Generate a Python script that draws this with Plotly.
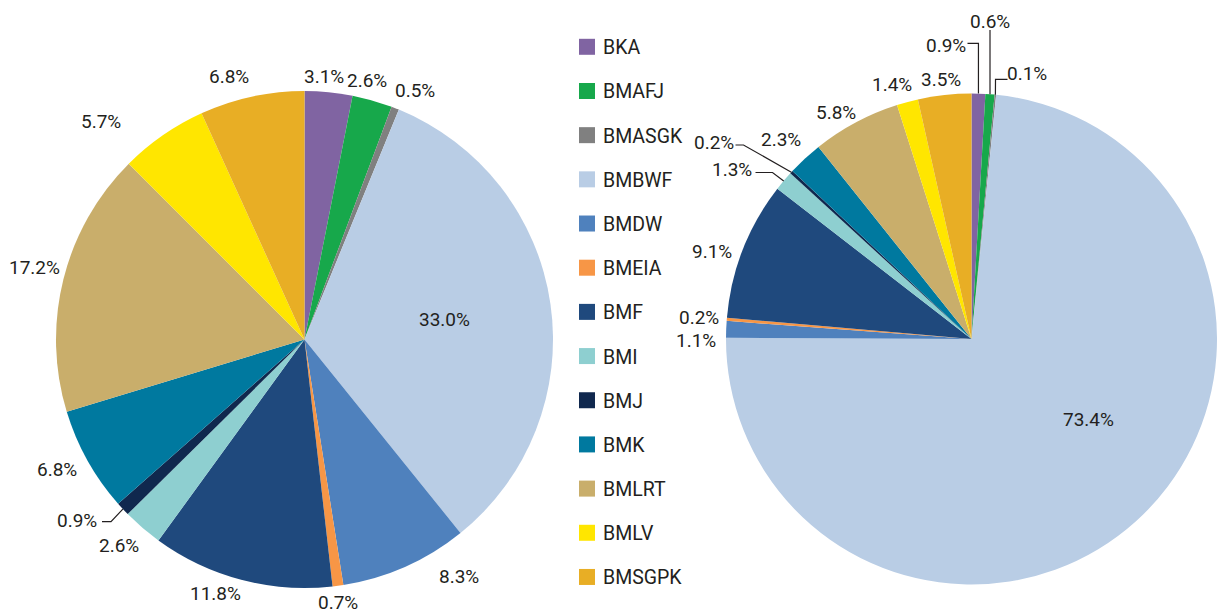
import math
import plotly.graph_objects as go

# Ministry codes and their shares (percent) in the two breakdowns
categories = ["BKA", "BMAFJ", "BMASGK", "BMBWF", "BMDW", "BMEIA", "BMF",
              "BMI", "BMJ", "BMK", "BMLRT", "BMLV", "BMSGPK"]
share_left = [3.1, 2.6, 0.5, 33.0, 8.3, 0.7, 11.8, 2.6, 0.9, 6.8, 17.2, 5.7, 6.8]
share_right = [0.9, 0.6, 0.1, 73.4, 1.1, 0.2, 9.1, 1.3, 0.2, 2.3, 5.8, 1.4, 3.5]

colors = ["#8064A2", "#17A84B", "#808080", "#B9CDE5", "#4F81BD", "#F79646",
          "#1F497D", "#8ECFD0", "#10284E", "#00799F", "#C9AE6B", "#FFE600",
          "#E8AE25"]

W, H = 1217, 613
FONT = "Roboto, Liberation Sans, sans-serif"
INK = "#231F20"
LABEL_SIZE = 19
LEGEND_SIZE = 19.5


def px(x):
    return x / W


def py(y):
    return 1 - y / H


# pie boxes in pixels: (left, top, right, bottom)
boxes = {"left": (56, 91, 553, 588), "right": (726, 92, 1217, 586)}

# label nudges (pixels) and which slice carries its label inside
nudges = {
    "left": {"BKA": (-8, 3), "BMAFJ": (-13, -2), "BMASGK": (9, 0), "BMBWF": (0, 0),
             "BMDW": (42, -7), "BMEIA": (-4, -2), "BMF": (-17, -5), "BMI": (-4, 3),
             "BMK": (-5, 0), "BMLRT": (5, -7), "BMLV": (-45, 2), "BMSGPK": (-17, -2)},
    "right": {"BMBWF": (23, -24), "BMDW": (-1, 12), "BMEIA": (2, 0), "BMF": (-3, 9),
              "BMK": (-4, -5), "BMLRT": (-6, 7), "BMLV": (-8, 1), "BMSGPK": (0, 3)},
}
inside = {"left": "BMBWF", "right": "BMBWF"}

# callout labels with leader lines: text centre, line end and elbow,
# all relative to the pie centre in pixels ("v" = elbow straight above slice)
callouts = {
    "left": {"BMJ": dict(text=(-228, 180.5), end=(-202.5, 182.2), elbow=(-193.5, 182.2))},
    "right": {
        "BKA": dict(text=(-25.5, -294), end=(-4, -295.7), elbow="v"),
        "BMAFJ": dict(text=(19, -318), end=None, elbow=(None, -309)),
        "BMASGK": dict(text=(55.5, -265), end=(36, -259.7), elbow=(24, -259.7)),
        "BMI": dict(text=(-239.5, -169.5), end=(-216, -166.5), elbow=(-199, -166.5)),
        "BMJ": dict(text=(-257.5, -196.5), end=(-236, -194), elbow=(-228, -194)),
    },
}

fig = go.Figure()
annotations = []
shapes = []

for side, values in (("left", share_left), ("right", share_right)):
    l, t, r, b = boxes[side]
    fig.add_trace(go.Pie(
        labels=categories, values=values, sort=False, direction="clockwise",
        rotation=0, marker=dict(colors=colors, line=dict(width=0)),
        textinfo="none", showlegend=False, hole=0,
        domain=dict(x=[px(l), px(r)], y=[py(b), py(t)]),
        hovertemplate="%{label}: %{value:.1f}%<extra></extra>",
    ))
    cx, cy = (l + r) / 2, (t + b) / 2
    R = min(r - l, b - t) / 2
    total = sum(values)
    cum = 0.0
    for name, v in zip(categories, values):
        mid = (cum + v / 2) / total * 2 * math.pi
        cum += v
        s, c = math.sin(mid), math.cos(mid)
        text = f"{v:.1f}%"
        if name in callouts[side]:
            co = callouts[side][name]
            ex, ey = cx + R * s, cy - R * c
            tx, ty = cx + co["text"][0], cy + co["text"][1]
            pts = [(ex, ey)]
            if co["elbow"] == "v":
                endy = cy + co["end"][1]
                pts += [(ex, endy), (cx + co["end"][0], endy)]
            elif co["elbow"][0] is None:
                pts.append((ex, cy + co["elbow"][1]))
                tx = ex
            else:
                pts += [(cx + co["elbow"][0], cy + co["elbow"][1]),
                        (cx + co["end"][0], cy + co["end"][1])]
            path = "M " + " L ".join(f"{px(x):.5f},{py(y):.5f}" for x, y in pts)
            shapes.append(dict(type="path", path=path, xref="paper", yref="paper",
                               line=dict(color=INK, width=1.2)))
        elif name == inside[side]:
            rr = 0.57 * R
            dx, dy = nudges[side][name]
            tx, ty = cx + rr * s + dx, cy - rr * c + dy
        else:
            rg = R + 10
            hw, hh = 4.9 * len(text), 9
            dx, dy = nudges[side][name]
            tx = cx + rg * s + hw * s + dx
            ty = cy - rg * c - hh * c + dy
        annotations.append(dict(
            x=px(tx), y=py(ty), xref="paper", yref="paper", text=text,
            showarrow=False, xanchor="center", yanchor="middle",
            font=dict(family=FONT, size=LABEL_SIZE, color=INK)))

# legend column between the two pies
legend_x, legend_y0, legend_step, swatch = 579, 46.8, 44.18, 16
for i, (name, col) in enumerate(zip(categories, colors)):
    yc = legend_y0 + i * legend_step
    shapes.append(dict(type="rect", xref="paper", yref="paper",
                       x0=px(legend_x), x1=px(legend_x + swatch),
                       y0=py(yc + swatch / 2), y1=py(yc - swatch / 2),
                       fillcolor=col, line=dict(width=0)))
    annotations.append(dict(
        x=px(legend_x + swatch + 6), y=py(yc + 1), xref="paper", yref="paper",
        text=name, showarrow=False, xanchor="left", yanchor="middle",
        font=dict(family=FONT, size=LEGEND_SIZE, color=INK)))

fig.update_layout(
    width=W, height=H, margin=dict(l=0, r=0, t=0, b=0),
    paper_bgcolor="white", plot_bgcolor="white",
    annotations=annotations, shapes=shapes, showlegend=False,
    font=dict(family=FONT, color=INK),
)

fig.write_html("out.html")
